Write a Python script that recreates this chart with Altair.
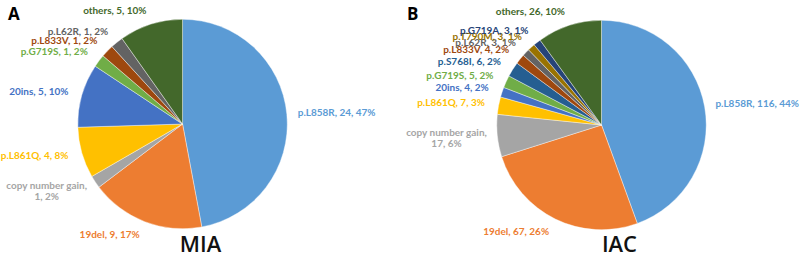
import altair as alt
import pandas as pd

# EGFR mutation profiles, MIA vs IAC
mia_labels = ["p.L858R", "19del", "copy number gain", "p.L861Q", "20ins",
              "p.G719S", "p.L833V", "p.L62R", "others"]
mia_counts = [24, 9, 1, 4, 5, 1, 1, 1, 5]
mia_pcts = [47, 17, 2, 8, 10, 2, 2, 2, 10]

iac_labels = ["p.L858R", "19del", "copy number gain", "p.L861Q", "20ins",
              "p.G719S", "p.S768I", "p.L833V", "p.L62R", "p.T790M",
              "p.G719A", "others"]
iac_counts = [116, 67, 17, 7, 4, 5, 6, 4, 3, 3, 3, 26]
iac_pcts = [44, 26, 6, 3, 2, 2, 2, 2, 1, 1, 1, 10]

categories = ["p.L858R", "19del", "copy number gain", "p.L861Q", "20ins",
              "p.G719S", "p.S768I", "p.L833V", "p.L62R", "p.T790M",
              "p.G719A", "others"]
palette = ["#5B9BD5", "#ED7D31", "#A5A5A5", "#FFC000", "#4472C4",
           "#70AD47", "#255E91", "#9E480E", "#636363", "#997300",
           "#264478", "#43682B"]

FONT = "Lato"
R_PIE = 105
R_LABEL = 119


def frame(labels, counts, pcts):
    rows = []
    for i, (lab, c, p) in enumerate(zip(labels, counts, pcts)):
        if lab == "copy number gain":
            text = [f"{lab},", f"{c}, {p}%"]
        else:
            text = f"{lab}, {c}, {p}%"
        rows.append({"idx": i, "cat": lab, "n": c, "label": text})
    return pd.DataFrame(rows)


color = alt.Color("cat:N", scale=alt.Scale(domain=categories, range=palette),
                  legend=None)


def panel(df, cx, cy, letter, name):
    base = alt.Chart(df)
    pie = base.mark_arc(stroke="white", strokeWidth=0.4).encode(
        theta=alt.Theta("n:Q", stack=True),
        order=alt.Order("idx:Q"),
        color=color,
        x=alt.value(cx), y=alt.value(cy),
        radius=alt.value(R_PIE),
    )
    # label anchors at the middle angle of each slice
    pos = (
        base.transform_window(cum="sum(n)", sort=[{"field": "idx"}])
        .transform_joinaggregate(total="sum(n)")
        .transform_calculate(ang=f"(datum.cum - datum.n/2) / datum.total * 2 * PI")
        .transform_calculate(
            lx=f"{cx} + {R_LABEL} * sin(datum.ang)",
            ly=f"{cy} - {R_LABEL} * cos(datum.ang)",
        )
    )
    enc = dict(
        x=alt.X("lx:Q", scale=None), y=alt.Y("ly:Q", scale=None),
        text="label", color=color,
    )
    style = dict(font=FONT, fontSize=10, fontWeight="bold", baseline="middle",
                 lineHeight=11)
    right_side = pos.transform_filter("datum.ang < PI").mark_text(
        align="left", dx=-3, **style).encode(**enc)
    left_side = pos.transform_filter(
        "datum.ang >= PI && datum.cat != 'copy number gain'"
    ).mark_text(align="right", **style).encode(**enc)
    cng = pos.transform_filter("datum.cat == 'copy number gain'").mark_text(
        align="center", dx=-37, dy=-4, **style).encode(**enc)
    tag = alt.Chart(pd.DataFrame({"t": [letter]})).mark_text(
        font="Open Sans", fontSize=17, fontWeight="bold", align="left",
        baseline="middle", color="black",
    ).encode(text="t", x=alt.value(7), y=alt.value(15))
    title = alt.Chart(pd.DataFrame({"t": [name]})).mark_text(
        font="Open Sans", fontSize=22, fontWeight=600, align="center",
        baseline="middle", color="#111111",
    ).encode(text="t", x=alt.value(cx + 18), y=alt.value(245))
    return alt.layer(pie, right_side, left_side, cng, tag, title).properties(
        width=400, height=263)


mia = panel(frame(mia_labels, mia_counts, mia_pcts), 182, 124, "A", "MIA")
iac = panel(frame(iac_labels, iac_counts, iac_pcts), 202, 125, "B", "IAC")

chart = (
    alt.hconcat(mia, iac, spacing=0)
    .properties(padding=0, background="white")
    .configure_view(stroke=None)
)

chart.save("out.html", embed_options={"renderer": "svg", "actions": False})
